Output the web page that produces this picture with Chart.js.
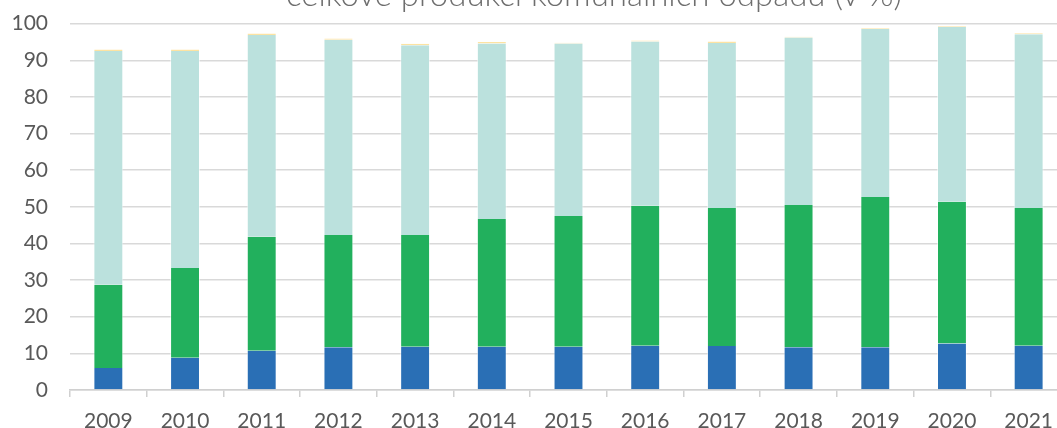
<!DOCTYPE html>
<html>
<head>
<meta charset="utf-8">
<script src="https://cdn.jsdelivr.net/npm/chart.js@4"></script>
<style>
  html, body { margin: 0; padding: 0; overflow: hidden; background: #fff; }
  #wrap { position: absolute; left: 0; top: -11px; width: 1067px; height: 439px; }
</style>
</head>
<body>
<div id="wrap"><canvas id="wasteChart"></canvas></div>
<script>
var years = ['2009', '2010', '2011', '2012', '2013', '2014', '2015', '2016', '2017', '2018', '2019', '2020', '2021'];

// segment values (v %), bottom to top
var blueValues   = [6.0, 8.8, 10.7, 11.7, 11.8, 11.8, 11.8, 12.1, 12.0, 11.7, 11.7, 12.7, 12.1];
var greenValues  = [22.7, 24.5, 31.1, 30.6, 30.5, 34.9, 35.7, 38.2, 37.7, 38.8, 41.0, 38.7, 37.6];
var tealValues   = [63.8, 59.2, 55.1, 53.3, 51.8, 47.9, 47.1, 44.8, 45.0, 45.7, 45.8, 47.7, 47.4];
var yellowValues = [0.4, 0.4, 0.4, 0.3, 0.4, 0.4, 0.2, 0.3, 0.4, 0.2, 0.2, 0.2, 0.3];

var yTicks = [0, 10, 20, 30, 40, 50, 60, 70, 80, 90, 100];
var titleText = 'celkové produkci komunálních odpadů (v %)';

var fontFamily = 'Lato, "Open Sans", sans-serif';

// title sits partly above the window, as in the source picture
var topTitle = {
  id: 'topTitle',
  afterDraw: function(chart) {
    var c = chart.ctx;
    c.save();
    c.font = '300 33px ' + fontFamily;
    c.fillStyle = '#6e6e6e';
    c.textAlign = 'center';
    c.textBaseline = 'alphabetic';
    c.fillText(titleText, 594, 17);
    c.restore();
  }
};

function barSet(label, values, color) {
  return {
    label: label,
    data: values,
    backgroundColor: color,
    borderColor: 'rgba(255,255,255,0.55)',
    borderWidth: { left: 1, right: 1, top: 0, bottom: 0 },
    borderSkipped: false,
    barPercentage: 0.39,
    categoryPercentage: 1.0
  };
}

var ctx = document.getElementById('wasteChart');

var wasteChart = new Chart(ctx, {
  type: 'bar',
  data: {
    labels: years,
    datasets: [
      barSet('a', blueValues, '#2a6fb5'),
      barSet('b', greenValues, '#22b05d'),
      barSet('c', tealValues, '#bbe1dd'),
      barSet('d', yellowValues, '#fde3a2')
    ]
  },
  options: {
    responsive: true,
    maintainAspectRatio: false,
    animation: false,
    layout: { padding: { top: 3, left: 8, right: 0, bottom: 0 } },
    plugins: {
      legend: { display: false },
      tooltip: { enabled: false },
      title: { display: false }
    },
    scales: {
      x: {
        stacked: true,
        afterFit: function(axis) { axis.height = 38; },
        grid: {
          drawOnChartArea: false,
          drawTicks: true,
          tickLength: 7,
          color: '#d0d0d0',
          lineWidth: 1.5,
          offset: true
        },
        border: { display: true, color: '#d0d0d0', width: 1.5 },
        ticks: {
          color: '#595959',
          font: { family: fontFamily, size: 21 },
          padding: 12,
          maxRotation: 0
        }
      },
      y: {
        stacked: true,
        min: 0,
        max: 100,
        afterBuildTicks: function(axis) {
          axis.ticks = yTicks.map(function(v) { return { value: v }; });
        },
        afterFit: function(axis) { axis.width = 62; },
        grid: {
          drawTicks: false,
          color: '#d9d9d9',
          lineWidth: 1.4
        },
        border: { display: false },
        ticks: {
          color: '#595959',
          font: { family: fontFamily, size: 21 },
          padding: 22
        }
      }
    }
  },
  plugins: [topTitle]
});
</script>
</body>
</html>
